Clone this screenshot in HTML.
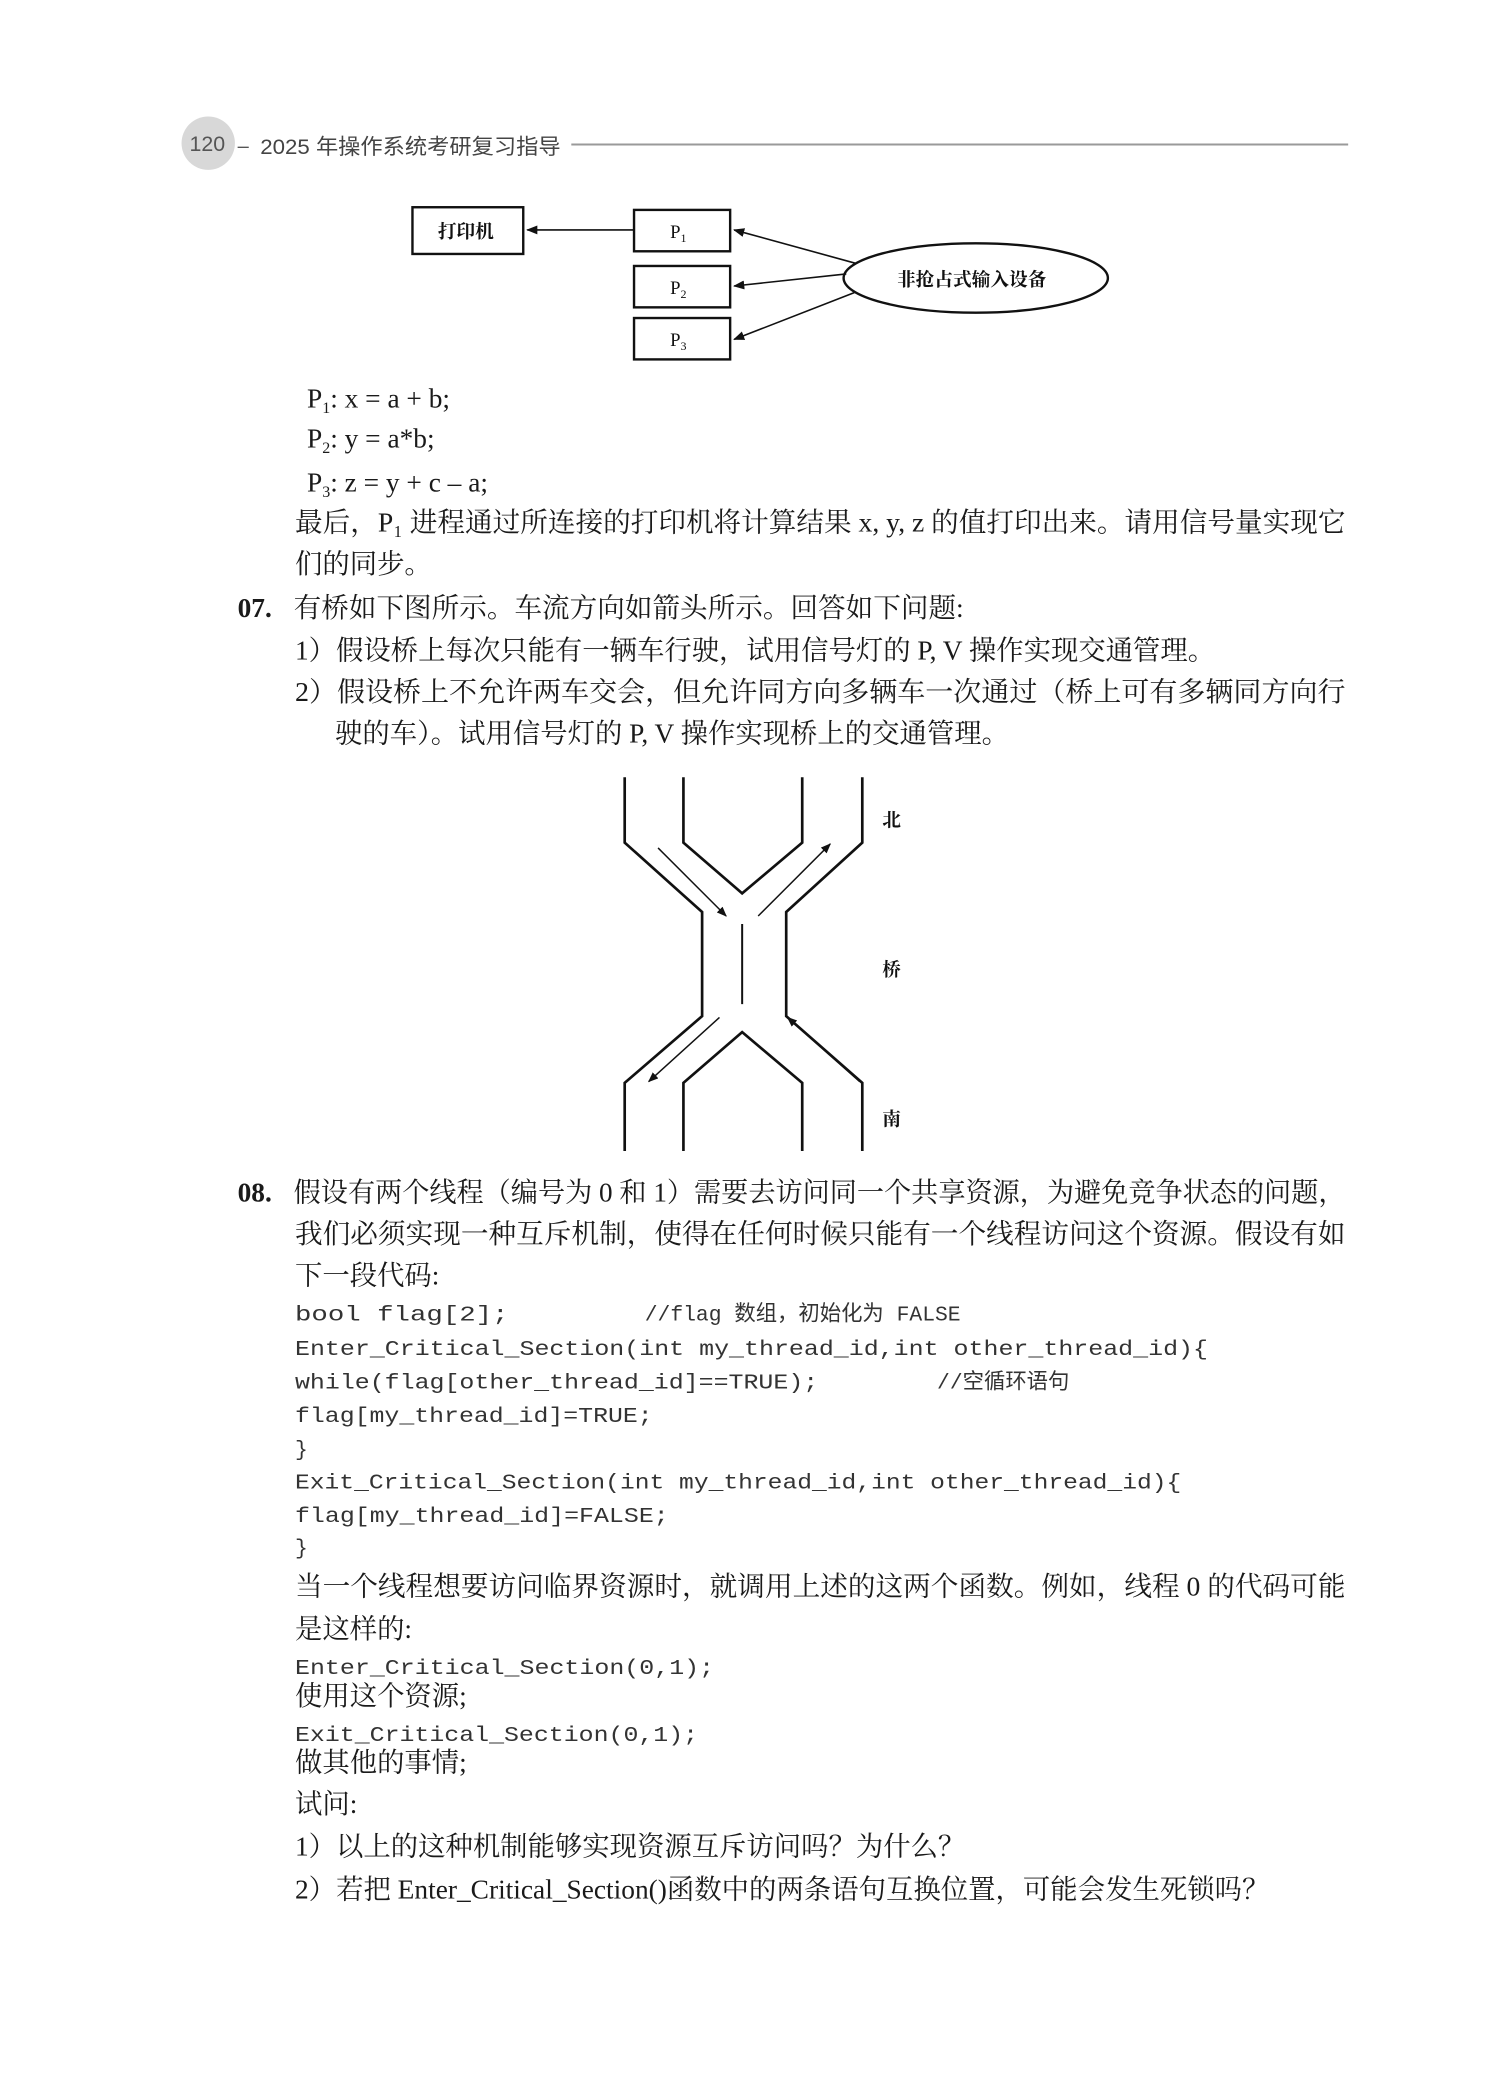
<!DOCTYPE html>
<html><head><meta charset="utf-8">
<style>
html,body{margin:0;padding:0;background:#fff;}
svg{display:block;}
.t{font-family:"Liberation Serif","Noto Serif CJK SC",serif;font-size:20.5px;fill:#1a1a1a;}
.c{font-family:"Liberation Mono","Noto Sans CJK SC",monospace;font-size:16px;fill:#333;}
.s{font-family:"Liberation Serif","Noto Serif CJK SC",serif;fill:#111;}
</style></head>
<body>
<svg width="1503" height="2095" viewBox="0 0 1126 1569" xmlns="http://www.w3.org/2000/svg">
<defs>
<marker id="ah" viewBox="0 0 10 10" refX="9" refY="5" markerWidth="7" markerHeight="7" orient="auto-start-reverse"><path d="M0,1 L10,5 L0,9 z" fill="#111"/></marker>
</defs>
<rect width="1126" height="1569" fill="#fff"/>
<!-- header -->
<circle cx="156" cy="107" r="20" fill="#d8d8d8"/>
<text x="142" y="113" font-family="Liberation Sans,sans-serif" font-size="16" fill="#555">120</text>
<text x="178" y="114" font-family="Liberation Sans,'Noto Sans CJK SC',sans-serif" font-size="15" fill="#555">–</text>
<text x="195" y="115" font-family="Liberation Sans,'Noto Sans CJK SC',sans-serif" font-size="16" fill="#444" textLength="225" lengthAdjust="spacingAndGlyphs">2025 年操作系统考研复习指导</text>
<line x1="428" y1="108" x2="1010" y2="108" stroke="#9a9a9a" stroke-width="1.5"/>

<!-- diagram 1 -->
<g stroke="#111" stroke-width="1.8" fill="none">
<rect x="309" y="155" width="83" height="35"/>
<rect x="475" y="157" width="72" height="31"/>
<rect x="475" y="199" width="72" height="31"/>
<rect x="475" y="238" width="72" height="31"/>
<ellipse cx="731" cy="208" rx="99" ry="26"/>
</g>
<g stroke="#111" stroke-width="1.2" fill="none" marker-end="url(#ah)">
<line x1="475" y1="172" x2="395" y2="172"/>
<line x1="641" y1="197" x2="550" y2="172"/>
<line x1="634" y1="205" x2="550" y2="214"/>
<line x1="640" y1="219" x2="550" y2="254"/>
</g>
<text x="328" y="178" class="s" font-size="14" font-weight="bold">打印机</text>
<text x="502" y="178" class="s" font-size="14">P<tspan font-size="9" dy="3">1</tspan></text>
<text x="502" y="220" class="s" font-size="14">P<tspan font-size="9" dy="3">2</tspan></text>
<text x="502" y="259" class="s" font-size="14">P<tspan font-size="9" dy="3">3</tspan></text>
<text x="672" y="214" class="s" font-size="14" font-weight="bold">非抢占式输入设备</text>

<text x="230" y="305" class="t">P<tspan font-size="12" dy="4">1</tspan><tspan dy="-4">: x = a + b;</tspan></text>
<text x="230" y="335" class="t">P<tspan font-size="12" dy="4">2</tspan><tspan dy="-4">: y = a*b;</tspan></text>
<text x="230" y="368" class="t">P<tspan font-size="12" dy="4">3</tspan><tspan dy="-4">: z = y + c – a;</tspan></text>
<text x="221" y="398" class="t" textLength="787" lengthAdjust="spacingAndGlyphs">最后，P₁ 进程通过所连接的打印机将计算结果 x, y, z 的值打印出来。请用信号量实现它</text>
<text x="221" y="429" class="t">们的同步。</text>

<text x="178" y="462" class="t" font-weight="bold">07.</text>
<text x="220" y="462" class="t" textLength="502" lengthAdjust="spacingAndGlyphs">有桥如下图所示。车流方向如箭头所示。回答如下问题:</text>
<text x="221" y="494" class="t">1）假设桥上每次只能有一辆车行驶，试用信号灯的 P, V 操作实现交通管理。</text>
<text x="221" y="525" class="t" textLength="787" lengthAdjust="spacingAndGlyphs">2）假设桥上不允许两车交会，但允许同方向多辆车一次通过（桥上可有多辆同方向行</text>
<text x="251" y="556" class="t">驶的车）。试用信号灯的 P, V 操作实现桥上的交通管理。</text>

<!-- bridge -->
<g stroke="#111" stroke-width="2" fill="none">
<polyline points="468,582 468,631 526,683 526,761 468,811 468,862"/>
<polyline points="646,582 646,631 589,683 589,761 646,811 646,862"/>
<polyline points="512,582 512,631 556,669 601,631 601,582"/>
<polyline points="512,862 512,811 556,773 601,811 601,862"/>
<line x1="556" y1="692" x2="556" y2="752" stroke-width="1.5"/>
</g>
<g stroke="#111" stroke-width="1.1" fill="none" marker-end="url(#ah)">
<line x1="493" y1="635" x2="544" y2="686"/>
<line x1="568" y1="686" x2="622" y2="632"/>
<line x1="644" y1="810" x2="590" y2="762"/>
<line x1="539" y1="762" x2="486" y2="810"/>
</g>
<text x="661" y="619" class="s" font-size="14" font-weight="bold">北</text>
<text x="661" y="731" class="s" font-size="14" font-weight="bold">桥</text>
<text x="661" y="843" class="s" font-size="14" font-weight="bold">南</text>

<!-- 08 -->
<text x="178" y="900" class="t" font-weight="bold">08.</text>
<text x="220" y="900" class="t" textLength="788" lengthAdjust="spacingAndGlyphs">假设有两个线程（编号为 0 和 1）需要去访问同一个共享资源，为避免竞争状态的问题，</text>
<text x="221" y="931" class="t" textLength="787" lengthAdjust="spacingAndGlyphs">我们必须实现一种互斥机制，使得在任何时候只能有一个线程访问这个资源。假设有如</text>
<text x="221" y="962" class="t">下一段代码:</text>
<text x="221" y="989" class="c" textLength="160" lengthAdjust="spacingAndGlyphs">bool flag[2];</text>
<text x="483" y="989" class="c">//flag 数组，初始化为 FALSE</text>
<text x="221" y="1015" class="c" textLength="684" lengthAdjust="spacingAndGlyphs">Enter_Critical_Section(int my_thread_id,int other_thread_id){</text>
<text x="221" y="1040" class="c" textLength="392" lengthAdjust="spacingAndGlyphs">while(flag[other_thread_id]==TRUE);</text>
<text x="702" y="1040" class="c">//空循环语句</text>
<text x="221" y="1065" class="c" textLength="268" lengthAdjust="spacingAndGlyphs">flag[my_thread_id]=TRUE;</text>
<text x="221" y="1090" class="c">}</text>
<text x="221" y="1115" class="c" textLength="664" lengthAdjust="spacingAndGlyphs">Exit_Critical_Section(int my_thread_id,int other_thread_id){</text>
<text x="221" y="1140" class="c" textLength="280" lengthAdjust="spacingAndGlyphs">flag[my_thread_id]=FALSE;</text>
<text x="221" y="1164" class="c">}</text>
<text x="221" y="1195" class="t" textLength="787" lengthAdjust="spacingAndGlyphs">当一个线程想要访问临界资源时，就调用上述的这两个函数。例如，线程 0 的代码可能</text>
<text x="221" y="1227" class="t">是这样的:</text>
<text x="221" y="1254" class="c" textLength="314" lengthAdjust="spacingAndGlyphs">Enter_Critical_Section(0,1);</text>
<text x="221" y="1277" class="t" font-size="19.5">使用这个资源;</text>
<text x="221" y="1304" class="c" textLength="302" lengthAdjust="spacingAndGlyphs">Exit_Critical_Section(0,1);</text>
<text x="221" y="1327" class="t" font-size="19.5">做其他的事情;</text>
<text x="221" y="1358" class="t">试问:</text>
<text x="221" y="1390" class="t">1）以上的这种机制能够实现资源互斥访问吗？为什么？</text>
<text x="221" y="1422" class="t" textLength="730" lengthAdjust="spacingAndGlyphs">2）若把 Enter_Critical_Section()函数中的两条语句互换位置，可能会发生死锁吗？</text>
</svg>
</body></html>
